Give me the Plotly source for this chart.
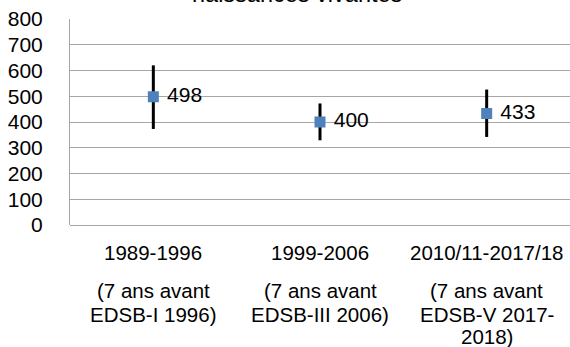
import plotly.graph_objects as go

periods = ["1989-1996", "1999-2006", "2010/11-2017/18"]
subtitle_lines = [
    ["(7 ans avant", "EDSB-I 1996)"],
    ["(7 ans avant", "EDSB-III 2006)"],
    ["(7 ans avant", "EDSB-V 2017-", "2018)"],
]
values = [498, 400, 433]
upper = [620, 472, 526]
lower = [373, 329, 342]
y_ticks = [0, 100, 200, 300, 400, 500, 600, 700, 800]
title_text = "naissances vivantes"

xs = list(range(len(periods)))
err_plus = [u - v for u, v in zip(upper, values)]
err_minus = [v - l for v, l in zip(values, lower)]

FONT = "Liberation Sans, Arial, sans-serif"

fig = go.Figure()
fig.add_trace(go.Scatter(
    x=xs, y=values, mode="markers+text",
    marker=dict(symbol="square", size=11, color="#4F81BD"),
    text=[" " + str(v) for v in values], textposition="middle right",
    textfont=dict(family=FONT, size=21, color="black"),
    error_y=dict(type="data", symmetric=False, array=err_plus, arrayminus=err_minus,
                 color="black", thickness=3, width=0),
    cliponaxis=False, showlegend=False,
))

annotations = []
for i, p in enumerate(periods):
    annotations.append(dict(x=i, y=0, xref="x", yref="paper", text=p, showarrow=False,
                            yanchor="middle", yshift=-27,
                            font=dict(family=FONT, size=20.5, color="black")))
line_shifts = [-65, -89.5, -111]
for i, lines in enumerate(subtitle_lines):
    for j, s in enumerate(lines):
        annotations.append(dict(x=i, y=0, xref="x", yref="paper", text=s, showarrow=False,
                                yanchor="middle", yshift=line_shifts[j],
                                font=dict(family=FONT, size=20.5, color="black")))
annotations.append(dict(x=0.453, y=1, xref="paper", yref="paper", text=title_text, showarrow=False,
                        yanchor="bottom", yshift=10,
                        font=dict(family=FONT, size=23.5, color="black")))

fig.update_layout(
    width=570, height=347,
    margin=dict(l=70, r=0, t=19, b=121.5),
    paper_bgcolor="white", plot_bgcolor="white",
    xaxis=dict(range=[-0.5, 2.5], showticklabels=False, showgrid=False, zeroline=False,
               showline=False, fixedrange=True),
    yaxis=dict(range=[0, 800], tickvals=y_ticks, ticktext=[str(t) for t in y_ticks],
               showgrid=True, gridcolor="#A6A6A6", gridwidth=1,
               zeroline=True, zerolinecolor="#A6A6A6", zerolinewidth=1,
               showline=True, linecolor="#A6A6A6", linewidth=1,
               tickfont=dict(family=FONT, size=21, color="black"), ticks="", ticklabelstandoff=22),
    annotations=annotations,
)
fig.write_html("out.html", config={"displayModeBar": False},
               post_script="document.body.style.margin='0';document.body.style.overflow='hidden';")
